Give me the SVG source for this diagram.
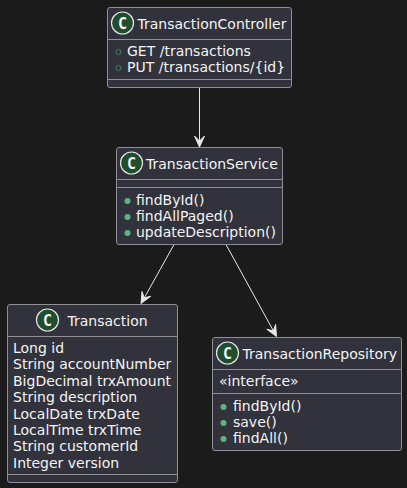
<svg xmlns="http://www.w3.org/2000/svg" width="407" height="488" viewBox="0 0 407 488">
<style>
.box{fill:#31323b;stroke:#8f9094;stroke-width:1}
.sep{stroke:#8f9094;stroke-width:1}
.t{font-family:"DejaVu Sans",sans-serif;font-size:14px;fill:#f4f4f4}
.c{font-family:"DejaVu Sans Mono",monospace;font-size:15px;font-weight:bold;fill:#f4f4f4;text-anchor:middle}
.spot{fill:#1f4d2e;stroke:#e6e6e6;stroke-width:1.2}
.pub{fill:#5cb57c}
.fld{fill:none;stroke:#3a8a5c;stroke-width:1}
.con{fill:none;stroke:#e8e8e8;stroke-width:1}
.head{fill:#e8e8e8;stroke:#e8e8e8;stroke-width:1;stroke-linejoin:round}
.bg{fill:#1b1b1b}
</style>
<rect class="bg" width="407" height="488"/>
<g id="connectors">
<path class="con" d="M199.5 88V142"/>
<path class="head" d="M199.5 147L194.5 136L199.5 141L204.5 136Z"/>
<path class="con" d="M174 244.5L144.5 297.5"/>
<path class="head" d="M141 303.5L142 291.5L144.2 297.8L150.7 296.3Z"/>
<path class="con" d="M226 244.5L273.2 330.5"/>
<path class="head" d="M276.5 336.5L266.8 329.3L273.4 330.8L275.6 324.5Z"/>
</g>
<g id="TransactionController">
<rect class="box" x="107.5" y="7.5" width="184" height="80" rx="2.5"/>
<path class="sep" d="M107.5 39.5H291.5M107.5 79.5H291.5"/>
<circle class="spot" cx="122.5" cy="23" r="11"/>
<text class="c" x="122.5" y="28.5">C</text>
<text class="t" x="137.5" y="28.5">TransactionController</text>
<circle class="fld" cx="118.5" cy="52" r="2.5"/>
<text class="t" x="127" y="56">GET /transactions</text>
<circle class="fld" cx="118.5" cy="68" r="2.5"/>
<text class="t" x="127" y="72">PUT /transactions/{id}</text>
</g>
<g id="TransactionService">
<rect class="box" x="116.5" y="147.5" width="166" height="97" rx="2.5"/>
<path class="sep" d="M116.5 179.5H282.5M116.5 187.5H282.5"/>
<circle class="spot" cx="131.5" cy="163" r="11"/>
<text class="c" x="131.5" y="168.5">C</text>
<text class="t" x="146" y="168.5">TransactionService</text>
<circle class="pub" cx="127.5" cy="201" r="3"/>
<text class="t" x="136" y="205">findById()</text>
<circle class="pub" cx="127.5" cy="217" r="3"/>
<text class="t" x="136" y="221">findAllPaged()</text>
<circle class="pub" cx="127.5" cy="233" r="3"/>
<text class="t" x="136" y="237">updateDescription()</text>
</g>
<g id="Transaction">
<rect class="box" x="7.5" y="304.5" width="170" height="178" rx="2.5"/>
<path class="sep" d="M7.5 336.5H177.5M7.5 474.5H177.5"/>
<circle class="spot" cx="47.5" cy="320" r="11"/>
<text class="c" x="47.5" y="325.5">C</text>
<text class="t" x="67.5" y="325.5">Transaction</text>
<text class="t" x="13" y="353">Long id</text>
<text class="t" x="13" y="369">String accountNumber</text>
<text class="t" x="13" y="386">BigDecimal trxAmount</text>
<text class="t" x="13" y="402">String description</text>
<text class="t" x="13" y="419">LocalDate trxDate</text>
<text class="t" x="13" y="435">LocalTime trxTime</text>
<text class="t" x="13" y="451">String customerId</text>
<text class="t" x="13" y="468">Integer version</text>
</g>
<g id="TransactionRepository">
<rect class="box" x="212.5" y="337.5" width="189" height="113" rx="2.5"/>
<path class="sep" d="M212.5 369.5H401.5M212.5 393.5H401.5"/>
<circle class="spot" cx="227.5" cy="353" r="11"/>
<text class="c" x="227.5" y="358.5">C</text>
<text class="t" x="242.5" y="358.5">TransactionRepository</text>
<text class="t" x="219" y="386">«interface»</text>
<circle class="pub" cx="223.5" cy="407" r="3"/>
<text class="t" x="233" y="411">findById()</text>
<circle class="pub" cx="223.5" cy="423" r="3"/>
<text class="t" x="233" y="427">save()</text>
<circle class="pub" cx="223.5" cy="439" r="3"/>
<text class="t" x="233" y="443">findAll()</text>
</g>
</svg>
